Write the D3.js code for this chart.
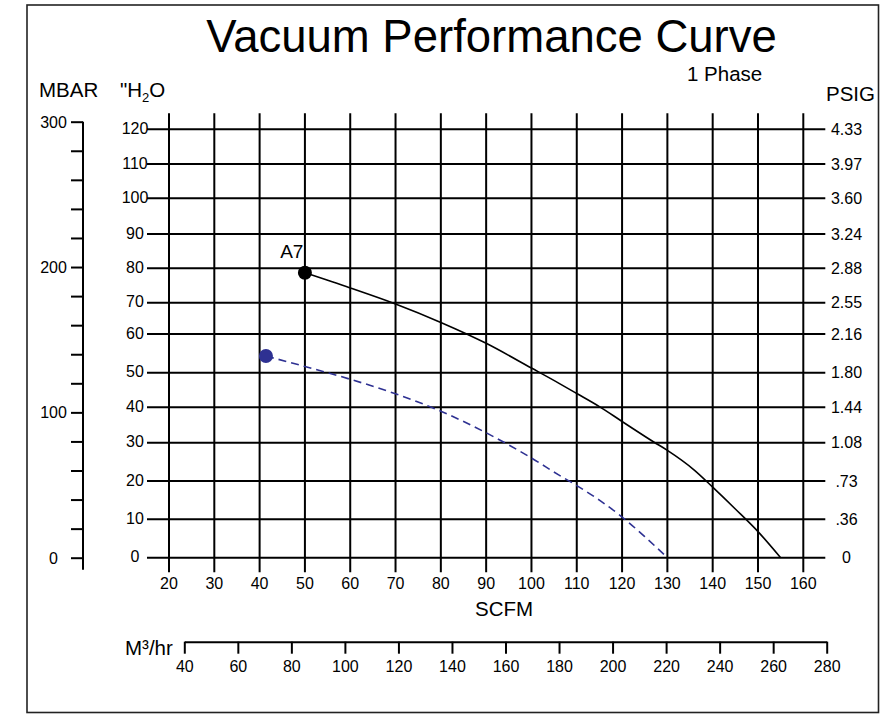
<!DOCTYPE html>
<html>
<head>
<meta charset="utf-8">
<script src="https://cdn.jsdelivr.net/npm/d3@7"></script>
<style>
  html, body { margin: 0; padding: 0; background: #fff; }
  svg { display: block; font-family: "Liberation Sans", Arial, sans-serif; }
</style>
</head>
<body>
<svg id="chart" width="892" height="714"></svg>
<script>
// ---------- data ----------
const scfmTicks = [20, 30, 40, 50, 60, 70, 80, 90, 100, 110, 120, 130, 140, 150, 160];
const h2oTicks = [0, 10, 20, 30, 40, 50, 60, 70, 80, 90, 100, 110, 120];
const psigLabels = ["0", ".36", ".73", "1.08", "1.44", "1.80", "2.16", "2.55", "2.88", "3.24", "3.60", "3.97", "4.33"];
const mbarTicks = [0, 20, 40, 60, 80, 100, 120, 140, 160, 180, 200, 220, 240, 260, 280, 300];
const mbarLabels = [0, 100, 200, 300];
const m3hrTicks = [40, 60, 80, 100, 120, 140, 160, 180, 200, 220, 240, 260, 280];

// A7 curve (solid black): SCFM vs inches H2O
const a7Scfm = [50, 60, 70, 80, 90, 100, 106, 110, 115, 120, 127, 130, 136, 140, 145, 150, 155];
const a7H2O  = [78.7, 74.3, 69.6, 63.7, 57.6, 51.2, 47, 44, 40.2, 36, 30.2, 28, 22.8, 18.4, 12.7, 6.8, 0];

// second curve (dashed blue)
const bScfm = [41.4, 50, 60, 70, 80, 90, 100, 106, 110, 115, 120, 125, 130];
const bH2O  = [54.3, 51.6, 48.1, 43.9, 38.9, 32.8, 26, 21.6, 18.8, 15, 10.6, 5.5, 0];

// ---------- layout ----------
const svg = d3.select("#chart");
const FONT = "Liberation Sans, Arial, sans-serif";
const BLUE = "#2e3192";

// grid pixel positions for the (slightly irregular) vertical scale of the original
const yRange = [557.7, 519.3, 481, 442.7, 407.3, 372.7, 334, 302.7, 268.3, 234, 198.3, 164, 129.3];

const x = d3.scaleLinear().domain([20, 160]).range([169, 803.3]);
const y = d3.scaleLinear().domain(h2oTicks).range(yRange);
const yM = d3.scaleLinear().domain([0, 300]).range([557.7, 121.7]);
const xM = d3.scaleLinear().domain([40, 280]).range([184.3, 826.7]);

// frame
svg.append("rect")
  .attr("x", 27).attr("y", 5).attr("width", 851.5).attr("height", 707.5)
  .attr("fill", "none").attr("stroke", "#222").attr("stroke-width", 1.6);

// title
svg.append("text").attr("x", 491.5).attr("y", 52)
  .attr("text-anchor", "middle").attr("font-size", 45.5).attr("fill", "#000")
  .text("Vacuum Performance Curve");
svg.append("text").attr("x", 687).attr("y", 81)
  .attr("font-size", 20.5).attr("fill", "#000").text("1 Phase");

// axis titles
svg.append("text").attr("x", 39).attr("y", 97).attr("font-size", 20.5).text("MBAR");
const h2o = svg.append("text").attr("x", 120).attr("y", 97).attr("font-size", 20.5);
h2o.append("tspan").text("\"H");
h2o.append("tspan").attr("font-size", 13).attr("dy", 5).text("2");
h2o.append("tspan").attr("dy", -5).text("O");
svg.append("text").attr("x", 826).attr("y", 101).attr("font-size", 20.5).text("PSIG");
svg.append("text").attr("x", 504).attr("y", 616).attr("text-anchor", "middle")
  .attr("font-size", 20.5).text("SCFM");
svg.append("text").attr("x", 125).attr("y", 655).attr("font-size", 20.5).text("M³/hr");

// ---------- grid ----------
const grid = svg.append("g").attr("stroke", "#000").attr("stroke-width", 2);
grid.selectAll("line.v").data(scfmTicks).join("line").attr("class", "v")
  .attr("x1", d => x(d)).attr("x2", d => x(d))
  .attr("y1", y(120) - 16).attr("y2", y(0) + 14.5);
grid.selectAll("line.h").data(h2oTicks).join("line").attr("class", "h")
  .attr("y1", d => y(d)).attr("y2", d => y(d))
  .attr("x1", x(20) - 22).attr("x2", x(160) + 22);

// x tick labels (SCFM)
svg.append("g").selectAll("text").data(scfmTicks).join("text")
  .attr("x", d => x(d)).attr("y", y(0) + 31)
  .attr("text-anchor", "middle").attr("font-size", 16).text(d => d);

// left inner labels ("H2O)
svg.append("g").selectAll("text").data(h2oTicks).join("text")
  .attr("x", 135).attr("y", d => y(d) + 4.5)
  .attr("text-anchor", "middle").attr("font-size", 16).text(d => d);

// right labels (PSIG)
svg.append("g").selectAll("text").data(h2oTicks).join("text")
  .attr("x", 846.5).attr("y", d => y(d) + 5.5)
  .attr("text-anchor", "middle").attr("font-size", 16)
  .text((d, i) => psigLabels[i]);

// ---------- MBAR axis ----------
const mbarAxis = d3.axisLeft(yM).tickValues(mbarTicks).tickSize(12).tickSizeOuter(0)
  .tickFormat(d => mbarLabels.includes(d) ? d : "");
const gM = svg.append("g").attr("transform", "translate(83,0)").call(mbarAxis);
gM.select(".domain").attr("stroke", "#000").attr("stroke-width", 2)
  .attr("d", `M0,${yM(300)}V${yM(0) + 12}`);
gM.selectAll(".tick line").attr("stroke", "#000").attr("stroke-width", 2);
gM.selectAll(".tick text").attr("x", -29.5).attr("dy", "0.35em")
  .attr("text-anchor", "middle").attr("font-size", 16).attr("font-family", FONT).attr("fill", "#000");

// ---------- M3/hr axis ----------
const m3Axis = d3.axisBottom(xM).tickValues(m3hrTicks).tickSize(12).tickSizeOuter(0).tickPadding(6);
const gX = svg.append("g").attr("transform", "translate(0,641.7)").call(m3Axis);
gX.select(".domain").attr("stroke", "#000").attr("stroke-width", 2);
gX.selectAll(".tick line").attr("stroke", "#000").attr("stroke-width", 2);
gX.selectAll(".tick text").attr("font-size", 16).attr("font-family", FONT).attr("fill", "#000")
  .attr("y", 19).attr("dy", "0.71em");

// ---------- curves ----------
const line = d3.line().x(d => x(d[0])).y(d => y(d[1])).curve(d3.curveMonotoneX);
const a7 = a7Scfm.map((s, i) => [s, a7H2O[i]]);
const bl = bScfm.map((s, i) => [s, bH2O[i]]);

svg.append("path").datum(bl).attr("d", line)
  .attr("fill", "none").attr("stroke", BLUE).attr("stroke-width", 1.6)
  .attr("stroke-dasharray", "8,5");
svg.append("path").datum(a7).attr("d", line)
  .attr("fill", "none").attr("stroke", "#000").attr("stroke-width", 1.6);

svg.append("circle").attr("cx", x(bl[0][0])).attr("cy", y(bl[0][1])).attr("r", 7).attr("fill", BLUE);
svg.append("circle").attr("cx", x(a7[0][0])).attr("cy", y(a7[0][1])).attr("r", 7).attr("fill", "#000");

svg.append("text").attr("x", x(a7[0][0]) - 1.5).attr("y", y(a7[0][1]) - 14.5)
  .attr("text-anchor", "end").attr("font-size", 19).text("A7");
</script>
</body>
</html>
